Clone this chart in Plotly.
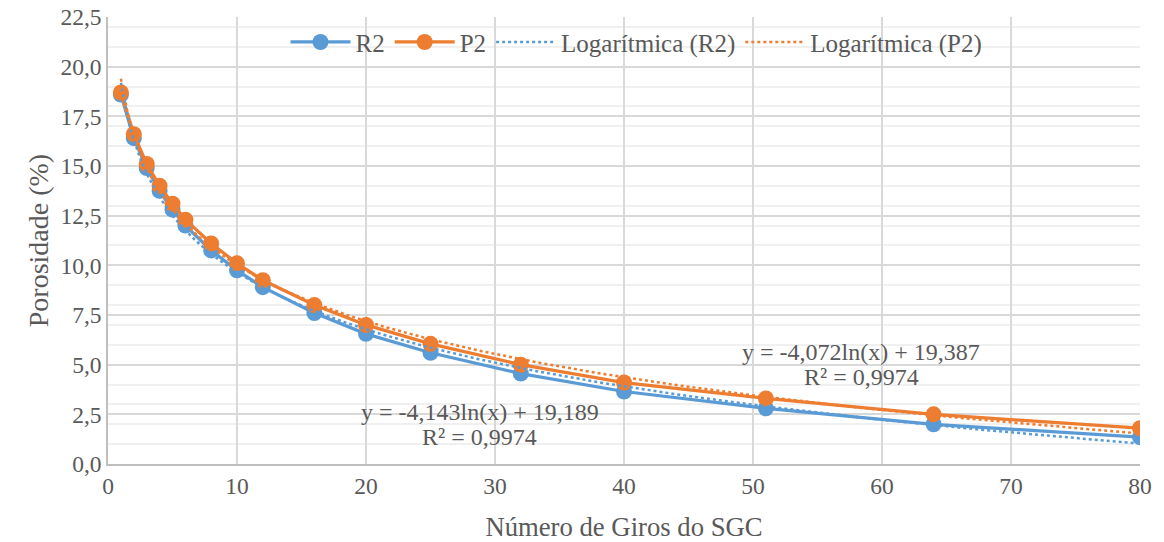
import numpy as np
import plotly.graph_objects as go

giros = [1, 2, 3, 4, 5, 6, 8, 10, 12, 16, 20, 25, 32, 40, 51, 64, 80]
r2 = [18.6, 16.4, 14.9, 13.75, 12.8, 12.0, 10.75, 9.75, 8.9, 7.6, 6.55, 5.6, 4.55, 3.65, 2.8, 2.0, 1.35]
p2 = [18.7, 16.6, 15.1, 14.0, 13.1, 12.3, 11.1, 10.1, 9.25, 8.0, 7.0, 6.05, 5.0, 4.1, 3.3, 2.5, 1.8]

# trendline coefficients as printed on the chart
r2_a, r2_b = -4.143, 19.189
p2_a, p2_b = -4.072, 19.387
r2_eq = "y = -4,143ln(x) + 19,189"
p2_eq = "y = -4,072ln(x) + 19,387"
r2_r2 = "R² = 0,9974"
p2_r2 = "R² = 0,9974"

y_ticks = [0, 2.5, 5, 7.5, 10, 12.5, 15, 17.5, 20, 22.5]
y_ticktext = ["0,0", "2,5", "5,0", "7,5", "10,0", "12,5", "15,0", "17,5", "20,0", "22,5"]

BLUE = "#5B9BD5"
ORANGE = "#ED7D31"
FONT = "Liberation Serif, Times New Roman, serif"
TXT = "#595959"

xt = np.linspace(min(giros), max(giros), 300)

fig = go.Figure()
fig.add_trace(go.Scatter(x=giros, y=r2, name="R2", mode="lines+markers",
                         line=dict(color=BLUE, width=3.25), marker=dict(size=16, color=BLUE)))
fig.add_trace(go.Scatter(x=giros, y=p2, name="P2", mode="lines+markers",
                         line=dict(color=ORANGE, width=3.25), marker=dict(size=16, color=ORANGE)))
fig.add_trace(go.Scatter(x=xt, y=r2_a * np.log(xt) + r2_b, name="Logarítmica (R2)", mode="lines",
                         line=dict(color=BLUE, width=2.5, dash="dot")))
fig.add_trace(go.Scatter(x=xt, y=p2_a * np.log(xt) + p2_b, name="Logarítmica (P2)", mode="lines",
                         line=dict(color=ORANGE, width=2.5, dash="dot")))

ann_font = dict(family=FONT, size=24, color=TXT)
fig.add_annotation(x=28.8, y=2.6, text=r2_eq, showarrow=False, font=ann_font)
fig.add_annotation(x=28.8, y=1.35, text=r2_r2, showarrow=False, font=ann_font)
fig.add_annotation(x=58.4, y=5.62, text=p2_eq, showarrow=False, font=ann_font)
fig.add_annotation(x=58.4, y=4.37, text=p2_r2, showarrow=False, font=ann_font)

fig.update_layout(
    width=1164, height=542,
    margin=dict(l=108, r=24, t=17, b=78),
    paper_bgcolor="white", plot_bgcolor="white",
    font=dict(family=FONT, size=23.5, color=TXT),
    showlegend=True,
    legend=dict(orientation="h", x=0.172, y=0.995, xanchor="left", yanchor="top",
                bgcolor="rgba(255,255,255,0)", font=dict(family=FONT, size=25, color=TXT),
                itemwidth=60),
    xaxis=dict(range=[0, 80], tickvals=list(range(0, 81, 10)), showgrid=True,
               gridcolor="#D9D9D9", gridwidth=1.5, zeroline=False,
               showline=True, linecolor="#BFBFBF", linewidth=1.5, automargin=False,
               ticks="", tickfont=dict(family=FONT, size=23.5, color=TXT),
               title=dict(text="Número de Giros do SGC", font=dict(family=FONT, size=26.7, color=TXT), standoff=22)),
    yaxis=dict(range=[0, 22.5], tickvals=y_ticks, ticktext=y_ticktext, showgrid=True,
               gridcolor="#D9D9D9", gridwidth=1.5, zeroline=False,
               showline=True, linecolor="#BFBFBF", linewidth=1.5, automargin=False,
               ticks="", tickfont=dict(family=FONT, size=23.5, color=TXT),
               minor=dict(dtick=1, tick0=0, showgrid=True, gridcolor="#F0F0F0", gridwidth=1.5),
               title=dict(text="Porosidade (%)", font=dict(family=FONT, size=28, color=TXT), standoff=4)),
)

fig.write_html("out.html")
